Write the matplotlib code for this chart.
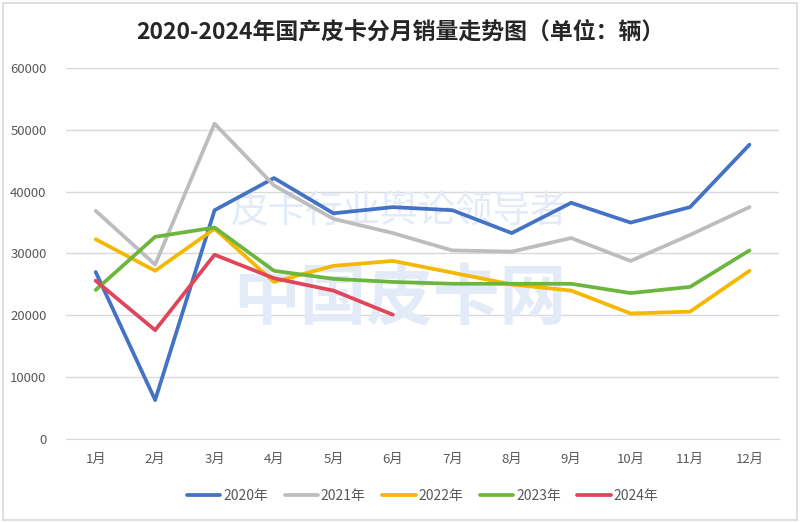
import matplotlib
matplotlib.use("Agg")
import matplotlib.pyplot as plt
from matplotlib.patches import Rectangle

plt.rcParams['font.family'] = ['Noto Sans CJK SC', 'DejaVu Sans']

months = ['1月', '2月', '3月', '4月', '5月', '6月', '7月', '8月', '9月', '10月', '11月', '12月']
s2020 = [27000, 6300, 37000, 42200, 36500, 37500, 37000, 33300, 38200, 35000, 37500, 47600]
s2021 = [36900, 28200, 51000, 41000, 35600, 33300, 30500, 30300, 32500, 28800, 33000, 37500]
s2022 = [32300, 27200, 34000, 25400, 28000, 28800, 26900, 25000, 24000, 20300, 20600, 27200]
s2023 = [24100, 32700, 34200, 27200, 25900, 25400, 25100, 25100, 25100, 23600, 24600, 30500]
s2024 = [25600, 17600, 29800, 26000, 24000, 20100]
series_names = ['2020年', '2021年', '2022年', '2023年', '2024年']
yticks = [0, 10000, 20000, 30000, 40000, 50000, 60000]

colors = ['#4472C4', '#BDBDBD', '#F5B800', '#6DB63E', '#E0455A']

fig = plt.figure(figsize=(8, 5.23), dpi=100)
fig.patches.append(Rectangle((0.004, 0.006), 0.992, 0.988, transform=fig.transFigure,
                             fill=False, edgecolor='#D9D9D9', linewidth=1.2))
ax = fig.add_axes([0.0825, 0.1606, 0.8915, 0.7094])

x = list(range(len(months)))
data = [s2020, s2021, s2022, s2023, s2024]
for name, vals, c in zip(series_names, data, colors):
    ax.plot(x[:len(vals)], vals, color=c, linewidth=2.7, label=name,
            solid_capstyle='round', solid_joinstyle='round', zorder=3)

ax.set_ylim(0, 60000)
ax.set_yticks(yticks)
ax.set_yticklabels([str(v) for v in yticks])
ax.set_xlim(-0.5, 11.5)
ax.set_xticks(x)
ax.set_xticklabels(months)
ax.grid(axis='y', color='#D9D9D9', linewidth=1)
ax.set_axisbelow(True)
for sp in ['top', 'right', 'left']:
    ax.spines[sp].set_visible(False)
ax.spines['bottom'].set_color('#D9D9D9')
ax.tick_params(axis='both', length=0, labelsize=9.5, colors='#595959')
ax.tick_params(axis='x', pad=10)
ax.tick_params(axis='y', pad=14)

# watermark
ax.text(0.468, 0.61, '皮卡行业舆论领导者', transform=ax.transAxes, fontsize=27,
        color='#E3EBF8', ha='center', va='center', style='italic', zorder=1)
ax.text(0.468, 0.375, '中国皮卡网', transform=ax.transAxes, fontsize=48, fontweight='bold',
        color='#E3EBF8', ha='center', va='center', zorder=1)

fig.text(0.5, 0.938, '2020-2024年国产皮卡分月销量走势图（单位：辆）', ha='center', va='center',
         fontsize=16.5, fontweight='bold', color='#262626')

leg = ax.legend(loc='upper center', bbox_to_anchor=(0.5, -0.10), ncol=5, frameon=False,
                fontsize=10, handlelength=2.4, handletextpad=0.2, columnspacing=1.2)
for t in leg.get_texts():
    t.set_color('#595959')

fig.savefig('out.png', dpi=100)
